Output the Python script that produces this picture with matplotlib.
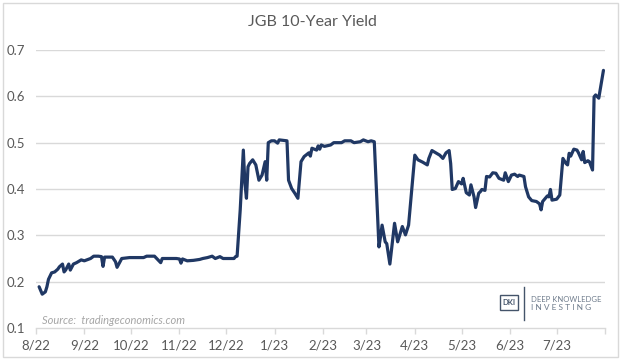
import matplotlib
matplotlib.use("Agg")
import matplotlib.pyplot as plt
import pandas as pd
from matplotlib.patches import Rectangle
from matplotlib.lines import Line2D

title = "JGB 10-Year Yield"
source_text = "Source:  tradingeconomics.com"

dates = [
    "2022-08-03", "2022-08-05", "2022-08-07", "2022-08-08", "2022-08-09", "2022-08-11",
    "2022-08-13", "2022-08-15", "2022-08-16", "2022-08-18", "2022-08-19", "2022-08-20",
    "2022-08-22", "2022-08-23", "2022-08-25", "2022-08-27", "2022-08-30", "2022-09-01",
    "2022-09-05", "2022-09-07", "2022-09-10", "2022-09-12", "2022-09-13", "2022-09-14",
    "2022-09-19", "2022-09-21", "2022-09-22", "2022-09-25", "2022-09-30", "2022-10-09",
    "2022-10-11", "2022-10-14", "2022-10-16", "2022-10-18", "2022-10-20", "2022-10-21",
    "2022-10-30", "2022-11-01", "2022-11-02", "2022-11-03", "2022-11-06", "2022-11-10",
    "2022-11-14", "2022-11-16", "2022-11-19", "2022-11-22", "2022-11-24", "2022-11-27",
    "2022-11-29", "2022-12-06", "2022-12-07", "2022-12-08", "2022-12-10", "2022-12-12",
    "2022-12-13", "2022-12-14", "2022-12-15", "2022-12-16", "2022-12-18", "2022-12-20",
    "2022-12-22", "2022-12-24", "2022-12-26", "2022-12-27", "2022-12-28", "2022-12-30",
    "2023-01-01", "2023-01-03", "2023-01-04", "2023-01-09", "2023-01-10", "2023-01-12",
    "2023-01-14", "2023-01-16", "2023-01-18", "2023-01-20", "2023-01-23", "2023-01-24",
    "2023-01-25", "2023-01-28", "2023-01-29", "2023-01-30", "2023-01-31", "2023-02-02",
    "2023-02-06", "2023-02-08", "2023-02-13", "2023-02-15", "2023-02-19", "2023-02-21",
    "2023-02-25", "2023-02-27", "2023-03-02", "2023-03-04", "2023-03-06", "2023-03-09",
    "2023-03-10", "2023-03-11", "2023-03-13", "2023-03-14", "2023-03-16", "2023-03-19",
    "2023-03-21", "2023-03-22", "2023-03-24", "2023-03-26", "2023-03-28", "2023-03-30",
    "2023-04-01", "2023-04-03", "2023-04-06", "2023-04-09", "2023-04-10", "2023-04-12",
    "2023-04-15", "2023-04-17", "2023-04-19", "2023-04-21", "2023-04-23", "2023-04-24",
    "2023-04-25", "2023-04-27", "2023-04-29", "2023-05-01", "2023-05-02", "2023-05-04",
    "2023-05-06", "2023-05-07", "2023-05-09", "2023-05-10", "2023-05-12", "2023-05-13",
    "2023-05-14", "2023-05-16", "2023-05-17", "2023-05-19", "2023-05-21", "2023-05-23",
    "2023-05-25", "2023-05-28", "2023-05-29", "2023-05-31", "2023-06-02", "2023-06-04",
    "2023-06-06", "2023-06-07", "2023-06-10", "2023-06-11", "2023-06-13", "2023-06-15",
    "2023-06-18", "2023-06-20", "2023-06-21", "2023-06-22", "2023-06-25", "2023-06-26",
    "2023-06-27", "2023-06-28", "2023-07-01", "2023-07-03", "2023-07-05", "2023-07-07",
    "2023-07-08", "2023-07-09", "2023-07-10", "2023-07-12", "2023-07-14", "2023-07-15",
    "2023-07-17", "2023-07-18", "2023-07-19", "2023-07-21", "2023-07-22", "2023-07-24",
    "2023-07-25", "2023-07-26", "2023-07-28", "2023-07-31",
]

yields = [
    0.189, 0.173, 0.178, 0.189, 0.205, 0.219,
    0.221, 0.227, 0.232, 0.238, 0.221, 0.225,
    0.238, 0.225, 0.238, 0.241, 0.247, 0.245,
    0.250, 0.255, 0.255, 0.254, 0.233, 0.253,
    0.253, 0.243, 0.231, 0.250, 0.252, 0.252,
    0.255, 0.255, 0.255, 0.248, 0.241, 0.250,
    0.250, 0.249, 0.240, 0.249, 0.245, 0.246,
    0.248, 0.250, 0.252, 0.255, 0.250, 0.254,
    0.250, 0.250, 0.254, 0.255, 0.355, 0.484,
    0.412, 0.380, 0.448, 0.455, 0.463, 0.452,
    0.419, 0.430, 0.459, 0.419, 0.500, 0.504,
    0.504, 0.499, 0.506, 0.504, 0.419, 0.401,
    0.391, 0.380, 0.459, 0.470, 0.478, 0.471,
    0.488, 0.484, 0.493, 0.486, 0.495, 0.492,
    0.495, 0.500, 0.500, 0.504, 0.504, 0.500,
    0.502, 0.506, 0.502, 0.504, 0.502, 0.275,
    0.297, 0.322, 0.286, 0.282, 0.238, 0.326,
    0.286, 0.297, 0.319, 0.301, 0.322, 0.398,
    0.473, 0.463, 0.458, 0.452, 0.466, 0.483,
    0.477, 0.473, 0.466, 0.478, 0.483, 0.455,
    0.399, 0.401, 0.416, 0.411, 0.423, 0.392,
    0.387, 0.409, 0.383, 0.360, 0.391, 0.394,
    0.399, 0.397, 0.427, 0.426, 0.435, 0.434,
    0.423, 0.419, 0.435, 0.416, 0.430, 0.432,
    0.427, 0.430, 0.427, 0.405, 0.383, 0.375,
    0.373, 0.368, 0.355, 0.373, 0.385, 0.383,
    0.399, 0.376, 0.378, 0.387, 0.466, 0.455,
    0.452, 0.477, 0.471, 0.486, 0.484, 0.478,
    0.463, 0.481, 0.457, 0.461, 0.459, 0.441,
    0.599, 0.603, 0.596, 0.656,
]

tick_months = [
    "2022-08-01", "2022-09-01", "2022-10-01", "2022-11-01", "2022-12-01",
    "2023-01-01", "2023-02-01", "2023-03-01", "2023-04-01", "2023-05-01",
    "2023-06-01", "2023-07-01", "2023-08-01",
]
tick_labels = ["8/22", "9/22", "10/22", "11/22", "12/22", "1/23", "2/23",
               "3/23", "4/23", "5/23", "6/23", "7/23", ""]
y_ticks = [0.1, 0.2, 0.3, 0.4, 0.5, 0.6, 0.7]
y_labels = ["0.1", "0.2", "0.3", "0.4", "0.5", "0.6", "0.7"]

plt.rcParams['font.family'] = ['Lato', 'DejaVu Sans']

W, H = 624, 360
fig = plt.figure(figsize=(W / 100, H / 100), dpi=100)
fig.patch.set_facecolor("white")

ax = fig.add_axes([36 / W, 1 - 328 / H, (605 - 36) / W, (328 - 50) / H])

x = pd.to_datetime(dates)
ax.plot(x, yields, color="#203864", lw=2.3, solid_joinstyle="round",
        solid_capstyle="round", zorder=3)

xt = pd.to_datetime(tick_months)
ax.set_xlim(xt[0], xt[-1])
ax.set_ylim(y_ticks[0], y_ticks[-1])
ax.set_xticks(xt)
ax.set_xticklabels(tick_labels)
ax.set_yticks(y_ticks)
ax.set_yticklabels(y_labels)

grid_color = "#d9d9d9"
for v in y_ticks[1:]:
    ax.axhline(v, color=grid_color, lw=1.0, zorder=1)

for s in ["top", "right", "left"]:
    ax.spines[s].set_visible(False)
ax.spines["bottom"].set_color(grid_color)
ax.spines["bottom"].set_linewidth(1.0)

ax.tick_params(axis="x", colors=grid_color, length=4, width=1.0, pad=4,
               labelcolor="#595959", labelsize=9.5)
ax.tick_params(axis="y", length=0, pad=8, labelcolor="#595959", labelsize=9.5)

fig.text(312 / W, 1 - 22 / H, title, ha="center", va="center",
         fontsize=11.5, color="#595959")

fig.text(42 / W, 1 - 321 / H, source_text, ha="left", va="center",
         fontsize=8, style="italic", color="#a6a6a6")

# logo
logo_color = "#44546a"
fig.patches.append(Rectangle((500 / W, 1 - 310 / H), 18 / W, 15 / H,
                             transform=fig.transFigure, fill=False,
                             ec=logo_color, lw=1.0))
fig.text(509 / W, 1 - 302.5 / H, "DKI", ha="center", va="center",
         fontsize=5.5, fontweight="bold", color=logo_color)
fig.lines.append(Line2D([524 / W, 524 / W], [1 - 287 / H, 1 - 320 / H],
                        transform=fig.transFigure, color=logo_color, lw=1.0))
fig.text(531 / W, 1 - 299 / H, "DEEP KNOWLEDGE", ha="left", va="center",
         fontsize=5.5, color="#6f7c8c")
fig.text(531 / W, 1 - 307 / H, "I N V E S T I N G", ha="left", va="center",
         fontsize=6.0, color="#6f7c8c")

# outer frame
fig.patches.append(Rectangle((3 / W, 3 / H), 615 / W, 354 / H,
                             transform=fig.transFigure, fill=False,
                             ec="#d9d9d9", lw=1.0))

fig.savefig("out.png", dpi=100, facecolor="white")
